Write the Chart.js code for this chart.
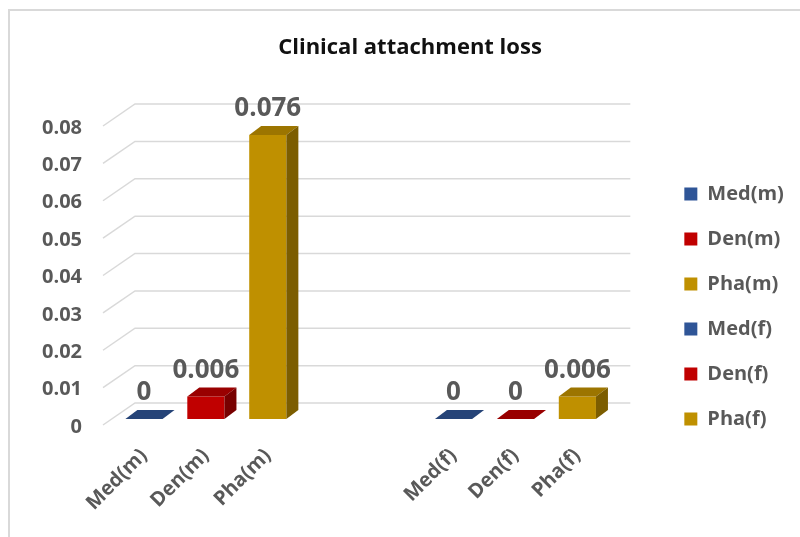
<!DOCTYPE html>
<html>
<head>
<meta charset="utf-8">
<title>Clinical attachment loss</title>
<script src="https://cdn.jsdelivr.net/npm/chart.js@4.4.1/dist/chart.umd.min.js"></script>
<style>
  html, body { margin: 0; padding: 0; background: #ffffff; }
  canvas { display: block; }
</style>
</head>
<body>
<canvas id="chart" width="800" height="537"></canvas>
<script>
// Category slots along the x axis; the two blank slots separate the male and female groups.
const axisLabels = ['Med(m)', 'Den(m)', 'Pha(m)', '', '', 'Med(f)', 'Den(f)', 'Pha(f)'];
// One series per bar.
const seriesNames = ['Med(m)', 'Den(m)', 'Pha(m)', 'Med(f)', 'Den(f)', 'Pha(f)'];
const seriesValues = [0, 0.006, 0.076, 0, 0, 0.006];
// Value axis.
const yMin = 0;
const yMax = 0.08;
const yStep = 0.01;

// Face colours for each series: front, top, side.
const frontColors = ['#2F5597', '#C00000', '#BF9000', '#2F5597', '#C00000', '#BF9000'];
const topColors   = ['#264478', '#990000', '#9C7500', '#264478', '#990000', '#9C7500'];
const sideColors  = ['#1F3864', '#780000', '#7C5D00', '#1F3864', '#780000', '#7C5D00'];

const FONT = "'Open Sans', 'DejaVu Sans', sans-serif";
const TEXT_GREY = '#595959';
const GRID_GREY = '#d9d9d9';

// 3-D geometry: bar depth and the offsets of the back wall relative to the bar plane.
const BAR_DX = 12, BAR_DY = -9;
const WALL_FRONT_DX = -10, WALL_FRONT_DY = 6;
const WALL_BACK_DX = 22, WALL_BACK_DY = -16;

const datasets = seriesNames.map((name, i) => ({
  label: name,
  data: axisLabels.map(l => (l === name ? seriesValues[i] : null)),
  backgroundColor: frontColors[i],
  borderWidth: 0
}));

const fmt = v => String(Number(v.toFixed(3)));

const bars3d = {
  id: 'bars3d',
  beforeDraw(chart) {
    const { ctx, width, height } = chart;
    ctx.save();
    ctx.fillStyle = '#ffffff';
    ctx.fillRect(0, 0, width, height);
    ctx.strokeStyle = GRID_GREY;
    ctx.lineWidth = 2;
    ctx.strokeRect(9, 10, width + 20, height + 20);
    ctx.restore();
  },
  beforeDatasetsDraw(chart) {
    const { ctx, chartArea, scales } = chart;
    const y = scales.y;
    ctx.save();
    ctx.strokeStyle = GRID_GREY;
    ctx.lineWidth = 1.5;
    y.ticks.forEach(t => {
      const py = y.getPixelForValue(t.value);
      ctx.beginPath();
      ctx.moveTo(chartArea.left + WALL_FRONT_DX, py + WALL_FRONT_DY);
      ctx.lineTo(chartArea.left + WALL_BACK_DX, py + WALL_BACK_DY);
      ctx.lineTo(chartArea.right + WALL_BACK_DX, py + WALL_BACK_DY);
      ctx.stroke();
    });
    ctx.restore();
  },
  afterDatasetsDraw(chart) {
    const { ctx } = chart;
    const labels = [];
    ctx.save();
    chart.data.datasets.forEach((ds, i) => {
      const meta = chart.getDatasetMeta(i);
      meta.data.forEach((bar, j) => {
        const v = ds.data[j];
        if (v === null || v === undefined) return;
        const { x, y, base, width } = bar.getProps(['x', 'y', 'base', 'width'], true);
        const l = x - width / 2, r = x + width / 2;
        // top face
        ctx.fillStyle = topColors[i];
        ctx.beginPath();
        ctx.moveTo(l, y);
        ctx.lineTo(r, y);
        ctx.lineTo(r + BAR_DX, y + BAR_DY);
        ctx.lineTo(l + BAR_DX, y + BAR_DY);
        ctx.closePath();
        ctx.fill();
        // side face
        if (base - y > 0.5) {
          ctx.fillStyle = sideColors[i];
          ctx.beginPath();
          ctx.moveTo(r, y);
          ctx.lineTo(r + BAR_DX, y + BAR_DY);
          ctx.lineTo(r + BAR_DX, base + BAR_DY);
          ctx.lineTo(r, base);
          ctx.closePath();
          ctx.fill();
        }
        labels.push({ x, y, text: fmt(v) });
      });
    });
    // value labels
    ctx.fillStyle = TEXT_GREY;
    ctx.font = `bold 26px ${FONT}`;
    ctx.textAlign = 'center';
    ctx.textBaseline = 'alphabetic';
    labels.forEach(lb => ctx.fillText(lb.text, lb.x, lb.y - 19));
    ctx.restore();
  }
};

new Chart(document.getElementById('chart'), {
  type: 'bar',
  data: { labels: axisLabels, datasets },
  plugins: [bars3d],
  options: {
    responsive: false,
    animation: false,
    layout: { padding: { left: 36, right: 16, top: 0, bottom: 0 } },
    datasets: {
      bar: { grouped: false, categoryPercentage: 1, barPercentage: 0.6 }
    },
    scales: {
      x: {
        offset: true,
        grid: { display: false, drawTicks: false },
        border: { display: false },
        ticks: {
          autoSkip: false,
          minRotation: 45,
          maxRotation: 45,
          padding: 25,
          color: TEXT_GREY,
          font: { family: FONT, weight: 'bold', size: 20 }
        },
        afterFit(s) { s.height = 118; }
      },
      y: {
        min: yMin,
        max: yMax,
        grid: { display: false, drawTicks: false },
        border: { display: false },
        ticks: {
          stepSize: yStep,
          padding: 31,
          labelOffset: 8,
          color: TEXT_GREY,
          font: { family: FONT, weight: 'bold', size: 20 },
          callback: v => fmt(v)
        },
        afterFit(s) { s.width = 77; }
      },
      depth: {
        position: 'right',
        display: true,
        grid: { display: false, drawTicks: false },
        border: { display: false },
        ticks: { display: false },
        afterFit(s) { s.width = 51; }
      }
    },
    plugins: {
      title: {
        display: true,
        text: 'Clinical attachment loss',
        color: '#111111',
        font: { family: FONT, weight: 'bold', size: 22 },
        padding: { top: 35, bottom: 58.6 }
      },
      legend: {
        position: 'right',
        title: { display: true, text: '', font: { size: 12 }, padding: { top: 0, bottom: 61.6 } },
        labels: {
          boxWidth: 13,
          boxHeight: 13,
          padding: 25,
          color: TEXT_GREY,
          font: { family: FONT, weight: 'bold', size: 20 }
        }
      },
      tooltip: { enabled: false }
    }
  }
});
</script>
</body>
</html>
